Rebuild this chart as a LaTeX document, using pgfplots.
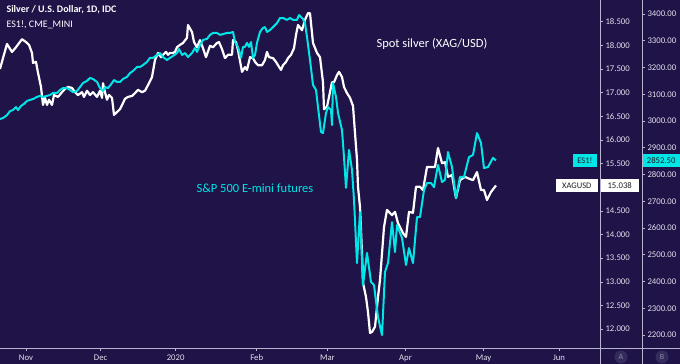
\documentclass[border=0pt]{standalone}
\usepackage{pgfplots}
\pgfplotsset{compat=1.18}
\usepackage{fontspec}
\setmainfont{Carlito}
\definecolor{bg}{RGB}{32,19,72}
\definecolor{cy}{RGB}{0,229,229}
\definecolor{axl}{RGB}{185,181,205}
\definecolor{lbl}{RGB}{228,225,238}
\definecolor{tagtxt}{RGB}{30,30,40}
\definecolor{pane}{RGB}{52,44,92}
\begin{document}
\begin{tikzpicture}
\fill[bg] (0pt,0pt) rectangle (680pt,364pt);
\draw[axl, line width=0.8pt] (0pt,16pt) -- (680pt,16pt);
\draw[axl, line width=0.8pt] (600pt,0pt) -- (600pt,364pt);
\draw[axl, line width=0.8pt] (642pt,0pt) -- (642pt,364pt);

% Silver axis
\begin{axis}[at={(0pt,16pt)}, anchor=south west, scale only axis,
  width=600pt, height=348pt, xmin=0, xmax=600, ymin=11.6014, ymax=18.9588,
  axis line style={draw=none},
  xtick={26,100.6,175.6,256.7,327.4,405.5,483.5,559},
  xticklabels={Nov,Dec,2020,Feb,Mar,Apr,May,Jun},
  xtick pos=bottom, ytick pos=right, tick align=outside, major tick length=3pt,
  tick style={axl, line width=0.6pt},
  ytick={12,12.5,13,13.5,14,14.5,15.5,16,16.5,17,17.5,18,18.5},
  yticklabels={12.000,12.500,13.000,13.500,14.000,14.500,15.500,16.000,16.500,17.000,17.500,18.000,18.500},
  yticklabel style={font=\fontsize{8.7}{9}\selectfont, text=lbl, anchor=west, xshift=-1pt},
  xticklabel style={font=\fontsize{8.7}{9}\selectfont, text=lbl, anchor=north, yshift=0pt},
  clip=true]
\addplot[white, line width=2.2pt, line join=round] coordinates {
(0,17.50) (3,17.73) (7,18.03) (12,17.86) (16,17.96) (22,18.13) (26,18.07) (29,18.01) (32,17.84) (33,17.63)
(36,17.65) (38,17.42) (41,17.12) (43,16.74) (45,16.89) (47,16.74) (49,16.85) (52,16.74) (54,16.95) (58,16.91)
(62,17.01) (65,17.08) (68,17.12) (72,17.10) (75,17.01) (78,16.95) (82,17.01) (84,16.91) (87,17.04) (90,16.95)
(93,17.01) (97,16.91) (100,17.04) (102,16.89) (103,17.20) (105,17.01) (107,16.85) (109,16.95) (112,16.89) (114,16.53)
(117,16.59) (120,16.65) (123,16.78) (125,16.87) (128,16.91) (132,16.93) (135,16.99) (138,17.06) (142,17.01) (145,17.04)
(148,17.16) (152,17.33) (155,17.69) (158,17.84) (161,17.75) (163,17.80) (166,17.86) (168,17.80) (170,17.84) (173,17.84)
(175,17.86) (177,17.96) (180,18.01) (183,18.05) (187,18.16) (188,18.43) (192,18.28) (194,18.07) (197,17.96) (200,18.11)
(203,17.94) (206,17.75) (210,17.99) (213,17.96) (217,18.05) (219,18.07) (222,17.92) (225,17.73) (228,17.80) (232,17.80)
(233,18.11) (236,18.07) (238,17.90) (242,17.44) (245,17.54) (247,17.48) (250,17.75) (253,17.73) (255,17.65) (258,17.58)
(262,17.58) (265,17.69) (267,17.86) (269,17.75) (273,17.73) (276,17.65) (278,17.58) (281,17.48) (283,17.58) (286,17.65)
(288,17.73) (291,17.80) (294,17.94) (296,18.22) (298,18.43) (302,18.32) (305,18.54) (308,18.68) (310,18.68) (313,18.05)
(317,17.84) (320,17.75) (323,17.22) (324,16.65) (327,16.70) (329,16.91) (332,17.22) (334,17.22) (337,17.37) (339,17.44)
(342,17.33) (344,17.12) (347,16.99) (350,16.89) (353,16.72) (355,16.15) (357,15.58) (358,15.01) (360,14.58) (362,13.61)
(363,12.98) (366,12.68) (368,12.36) (370,11.92) (372,11.94) (375,12.05) (378,12.68) (380,13.04) (384,14.16) (387,14.52)
(392,14.41) (395,14.48) (398,14.24) (403,14.03) (406,13.95) (409,14.48) (413,14.46) (416,15.01) (420,15.01) (423,14.94)
(427,15.43) (432,15.43) (435,15.43) (438,15.83) (442,15.51) (445,15.53) (448,15.22) (452,15.26) (456,14.77) (460,15.15)
(465,15.22) (468,15.19) (473,15.15) (477,15.32) (481,14.94) (484,14.94) (487,14.73) (491,14.90) (496,15.038)
};
\end{axis}

% ES axis
\begin{axis}[at={(0pt,16pt)}, anchor=south west, scale only axis,
  width=642pt, height=348pt, xmin=0, xmax=642, ymin=2151.5, ymax=3452.3,
  axis line style={draw=none}, xtick=\empty,
  ytick pos=right, tick align=outside, major tick length=3pt,
  tick style={axl, line width=0.6pt},
  ytick={2200,2300,2400,2500,2600,2700,2800,2900,3000,3100,3200,3300,3400},
  yticklabels={2200.00,2300.00,2400.00,2500.00,2600.00,2700.00,2800.00,2900.00,3000.00,3100.00,3200.00,3300.00,3400.00},
  yticklabel style={font=\fontsize{8.7}{9}\selectfont, text=lbl, anchor=west, xshift=-1pt},
  clip=true]
\addplot[cy, line width=2pt, line join=round] coordinates {
(0,3007.5) (3,3011) (7,3022) (10,3037) (13,3041) (16,3052) (18,3041) (21,3056) (24,3064) (27,3075)
(30,3079) (33,3082) (37,3090) (40,3094) (43,3090) (47,3094) (50,3097) (53,3105) (57,3105) (60,3116)
(63,3123) (67,3123) (70,3116) (73,3108) (77,3112) (80,3127) (83,3142) (87,3150) (90,3161) (93,3157)
(97,3146) (100,3123) (103,3112) (105,3127) (108,3123) (112,3142) (114,3153) (117,3146) (120,3146) (123,3157)
(127,3165) (130,3179) (133,3187) (137,3202) (140,3202) (143,3209) (147,3221) (150,3236) (153,3236) (157,3247)
(160,3254) (163,3239) (167,3228) (170,3236) (173,3243) (177,3254) (179,3269) (182,3247) (185,3254) (188,3239)
(192,3254) (195,3273) (197,3258) (200,3284) (203,3303) (207,3307) (210,3322) (213,3329) (217,3329) (220,3322)
(223,3325) (227,3329) (230,3329) (233,3333) (235,3295) (237,3284) (239,3265) (241,3236) (243,3277) (245,3277)
(247,3292) (249,3277) (251,3295) (253,3236) (255,3247) (257,3292) (260,3333) (263,3348) (265,3351) (267,3333)
(270,3340) (273,3351) (277,3366) (280,3385) (283,3385) (287,3378) (290,3385) (293,3378) (297,3378) (299,3396)
(303,3381) (305,3366) (307,3314) (310,3228) (313,3135) (316,3116) (318,3052) (321,2959) (323,2955) (326,3030)
(328,3052) (331,3041) (332,2985) (333,3142) (336,3090) (338,3030) (342,2966) (344,2865) (346,2750) (349,2892)
(352,2817) (354,2705) (357,2469) (360,2660) (363,2387) (367,2507) (371,2398) (374,2387) (378,2267) (382,2200)
(385,2436) (388,2469) (392,2622) (395,2510) (397,2611) (402,2563) (406,2462) (409,2525) (413,2469) (417,2641)
(420,2641) (424,2742) (427,2768) (431,2768) (434,2753) (438,2836) (442,2772) (445,2780) (448,2884) (452,2828)
(456,2712) (460,2791) (464,2791) (469,2865) (473,2873) (477,2955) (481,2918) (484,2824) (488,2828) (493,2862)
(496,2852.5)
};
\end{axis}

% texts
\node[anchor=west, text=white, font=\fontsize{10}{11}\selectfont\bfseries] at (3pt,354pt) {Silver / U.S. Dollar, 1D, IDC};
\node[anchor=west, text=white, font=\fontsize{10}{11}\selectfont] at (3pt,339pt) {ES1!, CME\_MINI};
\node[text=white, font=\fontsize{12.5}{13}\selectfont] at (432pt,320pt) {Spot silver (XAG/USD)};
\node[text=cy, font=\fontsize{12.5}{13}\selectfont] at (255pt,176pt) {S\&P 500 E-mini futures};

% price tags
\node[fill=cy, text=tagtxt, font=\fontsize{8.5}{9}\selectfont, inner sep=0pt, minimum height=13pt, minimum width=24pt, anchor=east] at (597pt,203.5pt) {ES1!};
\node[fill=cy, text=tagtxt, font=\fontsize{8.7}{9}\selectfont, inner sep=0pt, minimum height=13pt, minimum width=37pt, anchor=west] at (642.5pt,203.5pt) {2852.50};
\node[fill=white, text=tagtxt, font=\fontsize{8.5}{9}\selectfont, inner sep=0pt, minimum height=13pt, minimum width=42pt, anchor=east] at (598pt,178.5pt) {XAGUSD};
\node[fill=white, text=tagtxt, font=\fontsize{8.7}{9}\selectfont, inner sep=0pt, minimum height=13pt, minimum width=38pt, anchor=west] at (600.5pt,178.5pt) {15.038};

% pane markers
\fill[pane] (621pt,7pt) circle (6.5pt);
\fill[pane] (662pt,7pt) circle (6.5pt);
\node[text=axl!70!bg, font=\fontsize{8}{9}\selectfont] at (621pt,7pt) {A};
\node[text=axl!70!bg, font=\fontsize{8}{9}\selectfont] at (662pt,7pt) {B};

\pgfresetboundingbox
\path[use as bounding box] (0pt,0pt) rectangle (680pt,364pt);
\end{tikzpicture}
\end{document}
